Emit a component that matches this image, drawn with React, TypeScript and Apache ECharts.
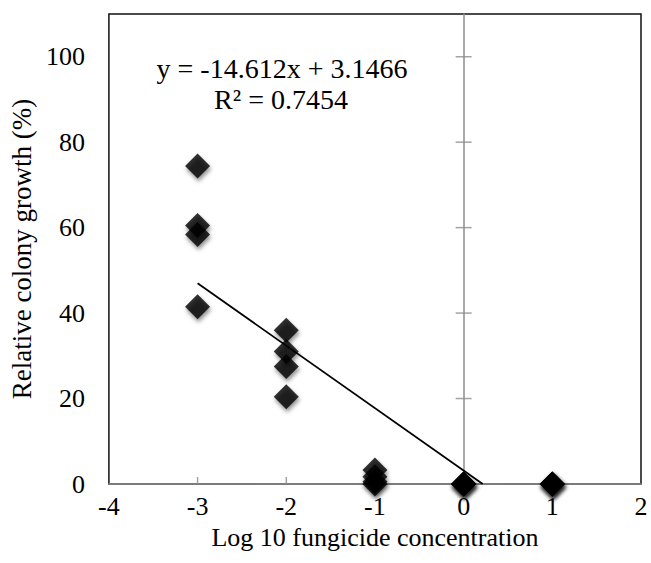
import React, { useEffect, useRef } from "react";
import * as echarts from "echarts";

// Data
const xLogConc = [-3, -3, -3, -3, -2, -2, -2, -2, -1, -1, -1, -1, 0, 0, 0, 0, 1, 1, 1, 1];
const growth = [74.4, 60.5, 58.4, 41.5, 36, 31, 27.5, 20.4, 3.3, 1.7, 0.5, 0, 0, 0, 0, 0, 0, 0, 0, 0];

const SLOPE = -14.612;
const INTERCEPT = 3.1466;
const R2 = 0.7454;

const xTicks = [-4, -3, -2, -1, 0, 1, 2];
const yTicks = [0, 20, 40, 60, 80, 100];

const FONT = "Liberation Serif";

export default function App() {
  const ref = useRef<HTMLDivElement>(null);

  useEffect(() => {
    if (!ref.current) return;
    const chart = echarts.init(ref.current, undefined, { renderer: "svg" });

    const points = xLogConc.map((x, i) => [x, growth[i]]);
    const xStart = Math.min(...xLogConc);
    const xEnd = -INTERCEPT / SLOPE;
    const trend = [
      [xStart, SLOPE * xStart + INTERCEPT],
      [xEnd, 0],
    ];

    const gray = "#8c8c8c";

    // tick marks drawn through the axes' scales
    const yTickMarks = yTicks.slice(1).map((v) => [0, v]);
    const xTickMarks = xTicks.slice(1, -1).map((v) => [v, 0]);

    chart.setOption({
      animation: false,
      backgroundColor: "#ffffff",
      textStyle: { fontFamily: FONT, color: "#000" },
      grid: {
        left: 105,
        right: 10,
        top: 14,
        bottom: 79,
        show: true,
        borderColor: "#111",
        borderWidth: 1.5,
        backgroundColor: "transparent",
      },
      xAxis: {
        type: "value",
        min: xTicks[0],
        max: xTicks[xTicks.length - 1],
        interval: 1,
        axisLine: { show: true, onZero: false, lineStyle: { color: gray, width: 1.5 } },
        axisTick: { show: false },
        axisLabel: { color: "#000", margin: 9, fontSize: 26, fontFamily: FONT },
        splitLine: { show: false },
        name: "Log 10 fungicide concentration",
        nameLocation: "middle",
        nameGap: 40,
        nameTextStyle: { fontSize: 26, color: "#000", fontFamily: FONT },
      },
      yAxis: [
        {
          type: "value",
          min: 0,
          max: 110,
          interval: 20,
          position: "left",
          axisLine: { show: false, onZero: false },
          axisTick: { show: false },
          axisLabel: {
            fontSize: 26,
            color: "#000",
            margin: 24,
            fontFamily: FONT,
            customValues: yTicks,
          },
          splitLine: { show: false },
          name: "Relative colony growth (%)",
          nameLocation: "middle",
          nameGap: 58,
          nameTextStyle: { fontSize: 27, color: "#000", fontFamily: FONT },
        },
        {
          type: "value",
          min: 0,
          max: 110,
          interval: 20,
          position: "left",
          axisLine: { show: true, onZero: true, lineStyle: { color: gray, width: 1.5 } },
          axisTick: { show: false },
          axisLabel: { show: false },
          splitLine: { show: false },
        },
      ],
      graphic: [
        {
          type: "text",
          x: 282,
          y: 68,
          style: {
            text: `y = ${SLOPE}x + ${INTERCEPT}`,
            fontSize: 28,
            fontFamily: FONT,
            fill: "#000",
            align: "center",
            verticalAlign: "middle",
          },
          z: 10,
        },
        {
          type: "text",
          x: 281,
          y: 99,
          style: {
            text: `R² = ${R2}`,
            fontSize: 28,
            fontFamily: FONT,
            fill: "#000",
            align: "center",
            verticalAlign: "middle",
          },
          z: 10,
        },
      ],
      series: [
        {
          type: "scatter",
          name: "yticks",
          yAxisIndex: 0,
          data: yTickMarks,
          symbol: "rect",
          symbolSize: [16, 1.5],
          itemStyle: { color: gray },
          silent: true,
          z: 2,
        },
        {
          type: "scatter",
          name: "xticks",
          yAxisIndex: 0,
          data: xTickMarks,
          symbol: "rect",
          symbolSize: [1.5, 7],
          symbolOffset: [0, -3.5],
          itemStyle: { color: gray },
          silent: true,
          z: 2,
        },
        {
          type: "scatter",
          yAxisIndex: 0,
          data: points,
          symbol: "diamond",
          symbolSize: 25,
          itemStyle: {
            color: "#000",
            shadowBlur: 4,
            shadowColor: "rgba(0,0,0,0.55)",
            shadowOffsetX: 1,
            shadowOffsetY: 3,
          },
          z: 3,
        },
        {
          type: "line",
          yAxisIndex: 0,
          data: trend,
          showSymbol: false,
          symbol: "none",
          lineStyle: { color: "#000", width: 1.75 },
          z: 4,
        },
      ],
    });

    return () => chart.dispose();
  }, []);

  return (
    <div
      ref={ref}
      style={{ position: "fixed", left: 0, top: 0, width: 651, height: 563 }}
    />
  );
}
